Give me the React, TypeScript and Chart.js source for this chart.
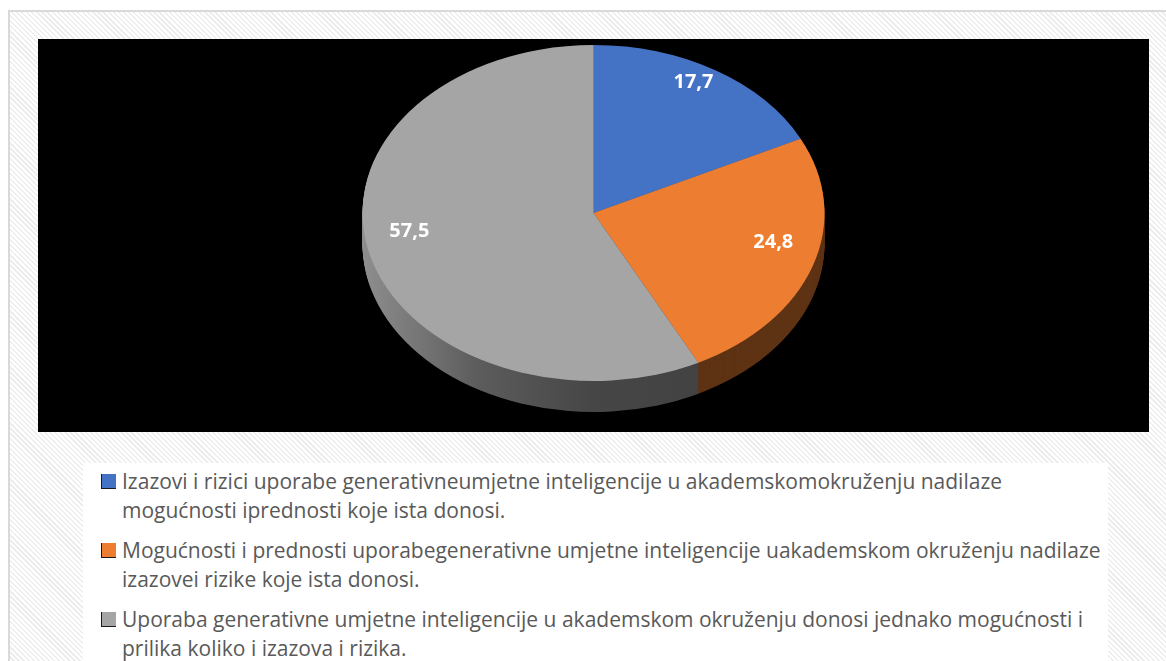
import React, { useEffect, useRef } from "react";
import { Chart, registerables } from "chart.js";

Chart.register(...registerables);

const categories: string[][] = [
  [
    "Izazovi i rizici uporabe generativneumjetne inteligencije u akademskomokruženju nadilaze",
    "mogućnosti iprednosti koje ista donosi.",
  ],
  [
    "Mogućnosti i prednosti uporabegenerativne umjetne inteligencije uakademskom okruženju nadilaze",
    "izazovei rizike koje ista donosi.",
  ],
  [
    "Uporaba generativne umjetne inteligencije u akademskom okruženju donosi jednako mogućnosti i",
    "prilika koliko i izazova i rizika.",
  ],
];
const values: number[] = [17.7, 24.8, 57.5];
const topColors: string[] = ["#4472c4", "#ed7d31", "#a5a5a5"];
const sideColors: string[] = ["#2a4a80", "#5e3314", "gray-gradient"];

const K = 0.727; // vertical squash of the pie (tilt)
const DEPTH = 31; // thickness of the pie, px
const LABEL_LIFT = 14; // perspective lift of the data labels, px

const pie3d = {
  id: "pie3d",
  beforeDatasetsDraw(chart: any) {
    const ctx: CanvasRenderingContext2D = chart.ctx;
    const arcs = chart.getDatasetMeta(0).data;
    if (!arcs.length) return;
    const { x: cx, y: cy, outerRadius: r } = arcs[0].getProps(["x", "y", "outerRadius"], true);
    ctx.save();
    ctx.translate(cx, cy);
    ctx.scale(1, K);
    ctx.translate(-cx, -cy);
    const grad = ctx.createLinearGradient(cx - r, 0, cx + r, 0);
    grad.addColorStop(0, "#8e8e8e");
    grad.addColorStop(0.25, "#5c5c5c");
    grad.addColorStop(0.5, "#464646");
    grad.addColorStop(1, "#3e3e3e");
    for (let d = DEPTH; d >= 1; d--) {
      ctx.save();
      ctx.translate(0, d / K);
      arcs.forEach((arc: any, i: number) => {
        const p = arc.getProps(["x", "y", "startAngle", "endAngle", "outerRadius"], true);
        ctx.beginPath();
        ctx.moveTo(p.x, p.y);
        ctx.arc(p.x, p.y, p.outerRadius, p.startAngle, p.endAngle);
        ctx.closePath();
        ctx.fillStyle = sideColors[i] === "gray-gradient" ? grad : sideColors[i];
        ctx.fill();
      });
      ctx.restore();
    }
  },
  afterDatasetsDraw(chart: any) {
    const ctx: CanvasRenderingContext2D = chart.ctx;
    ctx.restore();
    const arcs = chart.getDatasetMeta(0).data;
    ctx.save();
    ctx.font = "bold 20px 'Open Sans', sans-serif";
    ctx.fillStyle = "#ffffff";
    ctx.textAlign = "center";
    ctx.textBaseline = "middle";
    arcs.forEach((arc: any, i: number) => {
      const p = arc.getProps(["x", "y", "startAngle", "endAngle", "outerRadius"], true);
      const mid = (p.startAngle + p.endAngle) / 2;
      const rr = p.outerRadius * 0.82;
      const lx = p.x + Math.cos(mid) * rr;
      const ly = p.y + Math.sin(mid) * rr * K - LABEL_LIFT;
      ctx.fillText(values[i].toFixed(1).replace(".", ","), lx, ly);
    });
    ctx.restore();
  },
};

export default function App() {
  const ref = useRef<HTMLCanvasElement | null>(null);
  useEffect(() => {
    if (!ref.current) return;
    const chart = new Chart(ref.current, {
      type: "pie",
      data: {
        labels: categories,
        datasets: [
          {
            data: values,
            backgroundColor: topColors,
            borderWidth: 0,
          },
        ],
      },
      options: {
        responsive: false,
        animation: false,
        radius: 231,
        layout: { padding: { bottom: 45 } },
        plugins: {
          legend: { display: false },
          tooltip: { enabled: false },
        },
      } as any,
      plugins: [pie3d],
    });
    return () => chart.destroy();
  }, []);

  const hatch =
    "repeating-linear-gradient(45deg, #ffffff 0px, #ffffff 2px, #eeeeee 2px, #eeeeee 3.6px)";

  return (
    <div
      style={{
        position: "absolute",
        left: 0,
        top: 0,
        width: 1166,
        height: 661,
        background: "#ffffff",
        overflow: "hidden",
      }}
    >
      <div
        style={{
          position: "absolute",
          left: 8,
          top: 10,
          width: 1200,
          height: 700,
          borderTop: "2px solid #d9d9d9",
          borderLeft: "2px solid #d9d9d9",
          background: hatch,
        }}
      />
      <div
        style={{
          position: "absolute",
          left: 38,
          top: 39,
          width: 1111,
          height: 393,
          background: "#000000",
        }}
      >
        <canvas ref={ref} width={1111} height={393} style={{ display: "block" }} />
      </div>
      <div
        style={{
          position: "absolute",
          left: 83,
          top: 463,
          width: 1025,
          height: 210,
          background: "#ffffff",
          fontFamily: "'Open Sans', sans-serif",
          fontSize: 21,
          color: "#595959",
        }}
      >
        {categories.map((lines, i) => (
          <div
            key={i}
            style={{ position: "absolute", left: 0, top: 4 + i * 69, width: 1025 }}
          >
            <div
              style={{
                position: "absolute",
                left: 18,
                top: 7,
                width: 14,
                height: 14,
                background: topColors[i],
                borderLeft: "1px solid #1a1a1a",
                borderBottom: "1px solid #1a1a1a",
              }}
            />
            {lines.map((ln, j) => (
              <div
                key={j}
                style={{
                  position: "absolute",
                  left: 39,
                  top: j * 29,
                  lineHeight: "29px",
                  whiteSpace: "nowrap",
                }}
              >
                {ln}
              </div>
            ))}
          </div>
        ))}
      </div>
    </div>
  );
}
